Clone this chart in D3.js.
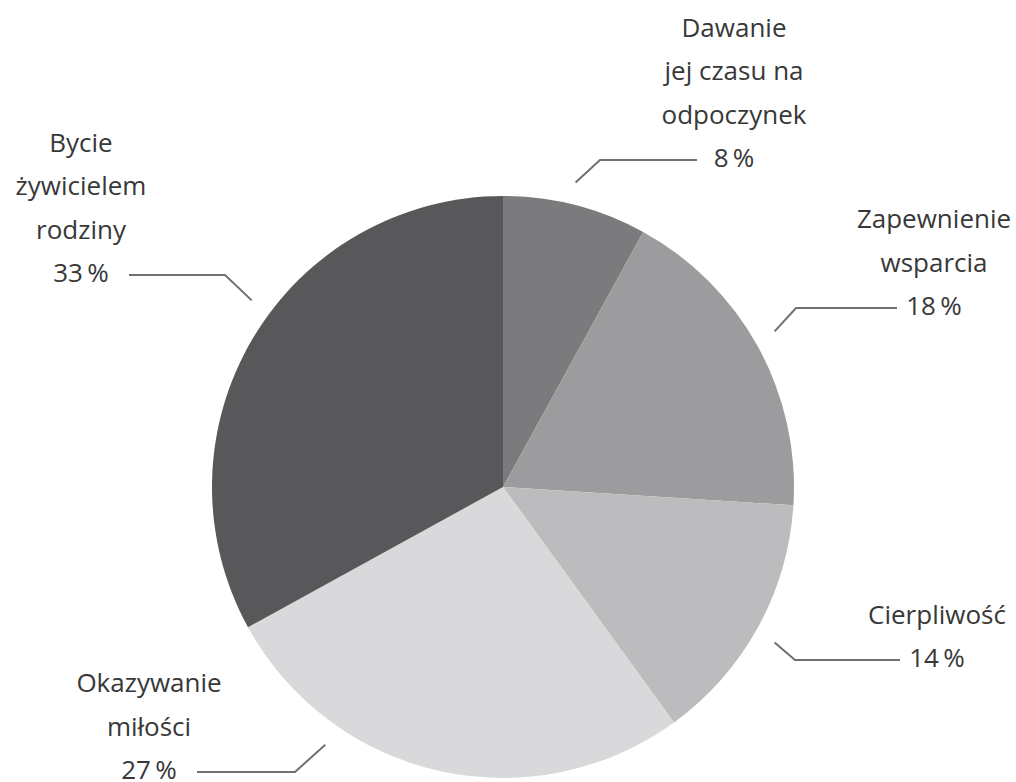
<!DOCTYPE html>
<html><head><meta charset="utf-8">
<script src="https://cdn.jsdelivr.net/npm/d3@7"></script>
<style>
html,body{margin:0;padding:0;background:#fff;}
svg text{font-family:"Open Sans",Lato,sans-serif;fill:#383838;}
</style></head>
<body>
<svg id="chart" width="1016" height="782"></svg>
<script>
const categories = ["Dawanie jej czasu na odpoczynek","Zapewnienie wsparcia","Cierpliwość","Okazywanie miłości","Bycie żywicielem rodziny"];
const values = [8,18,14,27,33];
const labelLines = [["Dawanie","jej czasu na","odpoczynek"],["Zapewnienie","wsparcia"],["Cierpliwość"],["Okazywanie","miłości"],["Bycie","żywicielem","rodziny"]];
const percentLabels = ["8\u2009%","18\u2009%","14\u2009%","27\u2009%","33\u2009%"];
const colors = ["#7b7b7d","#9c9c9e","#bcbcbe","#d9d9db","#58585a"];

// layout (positions) for labels
const cx = 503, cy = 487, R = 291;
const layout = [
  {tx:734, ty:160, side:"right", angAdj:-1, elbowX:600},
  {tx:934, ty:308, side:"right", angAdj:-1, elbowX:796},
  {tx:937, ty:660, side:"right", angAdj:1, elbowX:795},
  {tx:149, ty:772, side:"left",  angAdj:22, elbowX:295},
  {tx:81,  ty:275, side:"left",  angAdj:6, elbowX:225}
];
const lineGap = 43.5;
const fontSize = 26;

const svg = d3.select("#chart");
const g = svg.append("g").attr("transform",`translate(${cx},${cy})`);
const pie = d3.pie().sort(null).value(d=>d);
const arcs = pie(values);
const arc = d3.arc().innerRadius(0).outerRadius(R);

g.selectAll("path.slice").data(arcs).enter().append("path")
  .attr("class","slice")
  .attr("d",arc)
  .attr("fill",(d,i)=>colors[i]);

// labels & leader lines
arcs.forEach((d,i)=>{
  const L = layout[i];
  const mid = (d.startAngle+d.endAngle)/2 + L.angAdj*Math.PI/180;
  const rr = R + 22;
  const sx = cx + rr*Math.sin(mid), sy = cy - rr*Math.cos(mid);
  const ey = L.ty;
  const endX = L.side==="right" ? L.tx - 37 : L.tx + 48;
  svg.append("polyline")
    .attr("points",`${sx},${sy} ${L.elbowX},${ey} ${endX},${ey}`)
    .attr("fill","none").attr("stroke","#707070").attr("stroke-width",2);
  const lines = labelLines[i].concat([percentLabels[i]]);
  const n = lines.length;
  lines.forEach((t,j)=>{
    svg.append("text")
      .attr("x",L.tx)
      .attr("y",L.ty - (n-1-j)*lineGap + 7)
      .attr("text-anchor","middle")
      .attr("font-size",fontSize)
      .text(t);
  });
});
</script>
</body></html>
